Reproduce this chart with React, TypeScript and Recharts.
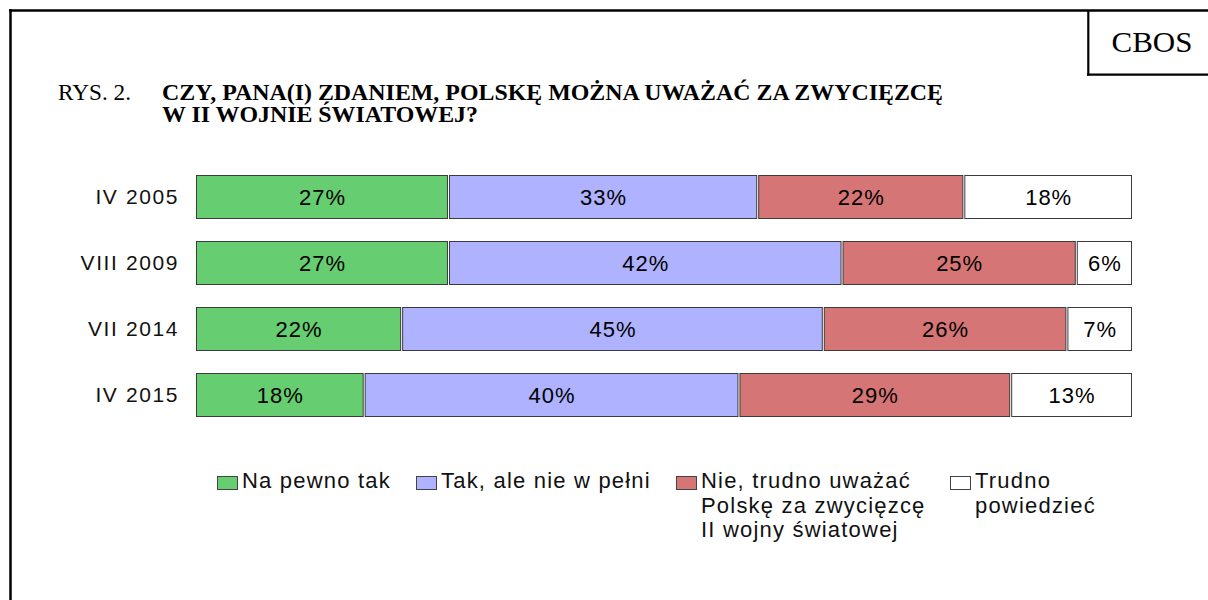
import { BarChart, Bar, XAxis, YAxis, Legend, LabelList } from 'recharts';

const periods = ['IV 2005', 'VIII 2009', 'VII 2014', 'IV 2015'];
const naPewnoTak = [27, 27, 22, 18];
const takAleNieWPelni = [33, 42, 45, 40];
const nieTrudnoUwazac = [22, 25, 26, 29];
const trudnoPowiedziec = [18, 6, 7, 13];

const seriesNames = [
  'Na pewno tak',
  'Tak, ale nie w pełni',
  'Nie, trudno uważać\nPolskę za zwycięzcę\nII wojny światowej',
  'Trudno\npowiedzieć',
];

const data = periods.map((period, i) => ({
  period,
  a: naPewnoTak[i],
  b: takAleNieWPelni[i],
  c: nieTrudnoUwazac[i],
  d: trudnoPowiedziec[i],
}));

const SANS = '"Liberation Sans", Arial, sans-serif';
const SERIF = '"Liberation Serif", "Times New Roman", serif';

const series = [
  { key: 'a', name: seriesNames[0], color: '#66CD70' },
  { key: 'b', name: seriesNames[1], color: '#AEB2FF' },
  { key: 'c', name: seriesNames[2], color: '#D57575' },
  { key: 'd', name: seriesNames[3], color: '#FFFFFF' },
];

// legend item x-positions (swatch left edge)
const legendX = [217, 416, 676, 950];

const Segment = (props: any) => {
  const { x, y, width, height, fill } = props;
  if (!width || width <= 0) return null;
  return (
    <rect
      x={x + 0.5}
      y={y + 0.5}
      width={Math.max(width - 2, 0)}
      height={height - 1}
      fill={fill}
      stroke="#3c3c3c"
      strokeWidth={1}
    />
  );
};

// keep the legend in series order (payload order is not guaranteed)
const renderLegend = () => (
  <div style={{ position: 'relative', width: 1208, height: 90 }}>
    {series.map((s, i) => (
      <div key={`leg-${s.key}`} style={{ position: 'absolute', left: legendX[i], top: 0 }}>
        <div
          style={{
            position: 'absolute',
            left: 0,
            top: 6,
            width: 19,
            height: 12,
            background: s.color,
            border: '1px solid #444',
          }}
        />
        <div
          style={{
            position: 'absolute',
            left: 25,
            top: -1,
            fontFamily: SANS,
            fontSize: 22,
            letterSpacing: 1.2,
            lineHeight: '24.5px',
            color: '#111',
            whiteSpace: 'pre',
          }}
        >
          {s.name}
        </div>
      </div>
    ))}
  </div>
);

export default function App() {
  return (
    <div style={{ position: 'absolute', left: 0, top: 0, width: 1208, height: 600, background: '#fff' }}>
      <svg width={1208} height={600} style={{ position: 'absolute', left: 0, top: 0 }}>
        <line x1={9} y1={10.5} x2={1208} y2={10.5} stroke="#000" strokeWidth={2.5} />
        <line x1={10.5} y1={9} x2={10.5} y2={600} stroke="#000" strokeWidth={2.5} />
        <line x1={1088.3} y1={10} x2={1088.3} y2={75.5} stroke="#000" strokeWidth={2.2} />
        <line x1={1087} y1={74.6} x2={1208} y2={74.6} stroke="#000" strokeWidth={2.2} />
        <text x={1152} y={52} textAnchor="middle" fontFamily={SERIF} fontSize={29} textLength={81} lengthAdjust="spacingAndGlyphs" fill="#000">
          CBOS
        </text>
        <text x={58} y={100} fontFamily={SERIF} fontSize={22.5} textLength={73} lengthAdjust="spacingAndGlyphs" fill="#000">
          RYS. 2.
        </text>
        <text x={162} y={100} fontFamily={SERIF} fontSize={22.5} fontWeight="bold" textLength={781} lengthAdjust="spacingAndGlyphs" fill="#000">
          CZY, PANA(I) ZDANIEM, POLSKĘ MOŻNA UWAŻAĆ ZA ZWYCIĘZCĘ
        </text>
        <text x={162} y={122} fontFamily={SERIF} fontSize={22.5} fontWeight="bold" textLength={316} lengthAdjust="spacingAndGlyphs" fill="#000">
          W II WOJNIE ŚWIATOWEJ?
        </text>
      </svg>
      <div style={{ position: 'absolute', left: 0, top: 0 }}>
        <BarChart
          width={1208}
          height={600}
          data={data}
          layout="vertical"
          barSize={44}
          margin={{ top: 164, right: 75, bottom: 172, left: 10 }}
        >
          <XAxis type="number" domain={[0, 100]} hide />
          <YAxis
            type="category"
            dataKey="period"
            width={186}
            axisLine={false}
            tickLine={false}
            tickSize={0}
            tickMargin={17}
            tick={{ fill: '#111', fontSize: 21, fontFamily: SANS, letterSpacing: 1.6 }}
          />
          <Legend
            layout="horizontal"
            verticalAlign="middle"
            align="center"
            content={renderLegend}
            wrapperStyle={{ left: 0, top: 470, width: 1208, height: 90 }}
          />
          {series.map((s) => (
            <Bar
              key={s.key}
              dataKey={s.key}
              name={s.name}
              stackId="all"
              fill={s.color}
              shape={<Segment />}
              isAnimationActive={false}
            >
              <LabelList
                dataKey={s.key}
                position="center"
                formatter={(v: any) => `${v}%`}
                fill="#000"
                fontSize={22}
                fontFamily={SANS}
                letterSpacing={1}
              />
            </Bar>
          ))}
        </BarChart>
      </div>
    </div>
  );
}
